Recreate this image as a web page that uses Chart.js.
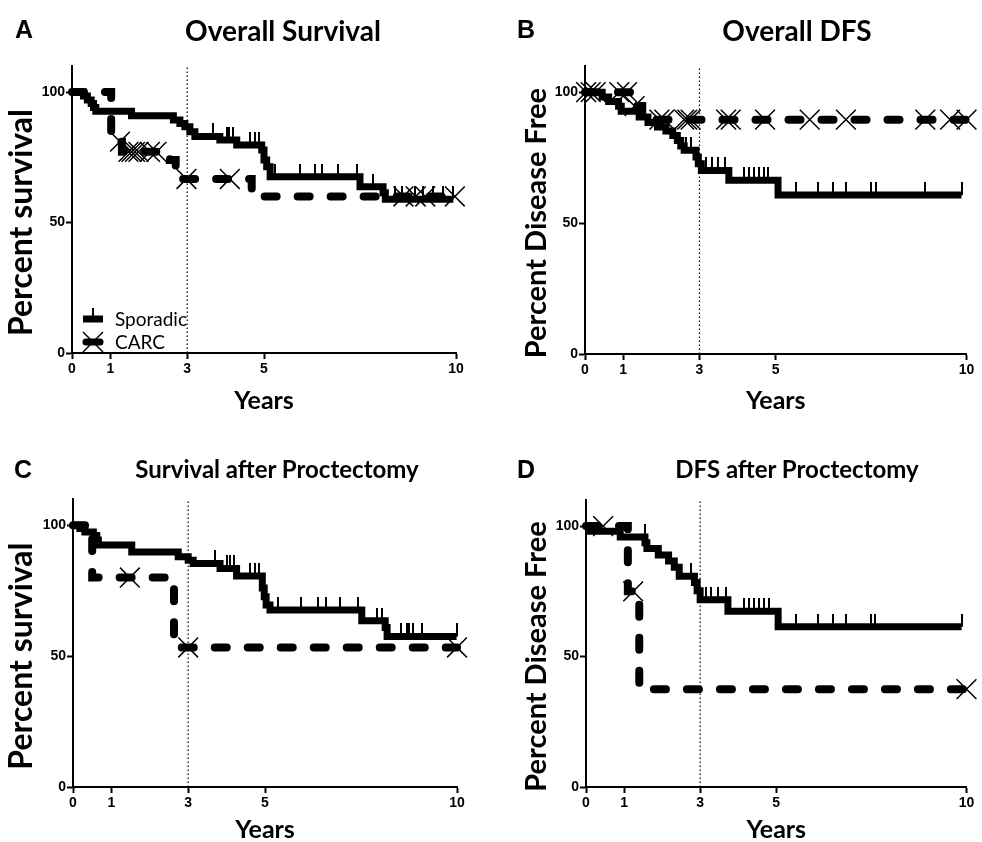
<!DOCTYPE html>
<html>
<head>
<meta charset="utf-8">
<script src="https://cdn.jsdelivr.net/npm/chart.js@4.4.0/dist/chart.umd.min.js"></script>
<style>
  body { margin: 0; background: #fff; }
  #wrap { position: relative; width: 982px; height: 842px; overflow: hidden; }
  canvas { position: absolute; }
  .lab { position: absolute; font: bold 25px "Liberation Sans", Arial, sans-serif; line-height: 1; transform: translate(-50%, -50%); }
  .ttl { position: absolute; font: bold 28px Lato, sans-serif; line-height: 1; white-space: nowrap; transform: translate(-50%, -50%); }
  .ttl.sm { font-size: 24px; }
</style>
</head>
<body>
<div id="wrap">
  <canvas id="cA" width="491" height="421" style="left:0;top:0"></canvas>
  <canvas id="cB" width="491" height="421" style="left:491px;top:0"></canvas>
  <canvas id="cC" width="491" height="421" style="left:0;top:421px"></canvas>
  <canvas id="cD" width="491" height="421" style="left:491px;top:421px"></canvas>
  <div class="lab" style="left:24px;top:29px">A</div>
  <div class="ttl" style="left:283px;top:30px">Overall Survival</div>
  <div class="lab" style="left:526px;top:29px">B</div>
  <div class="ttl" style="left:797px;top:30px">Overall DFS</div>
  <div class="lab" style="left:23px;top:469px">C</div>
  <div class="ttl sm" style="left:277px;top:469px">Survival after Proctectomy</div>
  <div class="lab" style="left:526px;top:469px">D</div>
  <div class="ttl sm" style="left:797px;top:469px">DFS after Proctectomy</div>
</div>
<script>
// axis ticks
const xTicks = [0, 1, 3, 5, 10];
const yTicks = [0, 50, 100];
const refYear = 3;

// A - overall survival
const osSpoTime = [0.30, 0.40, 0.50, 0.56, 0.62, 1.55, 2.64, 2.81, 2.94, 3.07, 3.20, 3.85, 4.29, 4.94, 5.00, 5.07, 5.16, 7.50, 8.10, 8.16];
const osSpoSurv = [98.5, 97.0, 95.6, 94.1, 92.7, 90.9, 89.3, 88.0, 86.7, 84.8, 83.0, 81.6, 79.7, 77.8, 74.0, 71.4, 67.6, 63.7, 61.4, 58.9];
const osSpoCens = [3.68, 4.03, 4.10, 4.20, 4.64, 4.77, 4.86, 5.29, 5.94, 6.33, 6.50, 6.94, 7.41, 7.85, 8.41, 8.59, 8.93, 9.15, 9.41, 9.67, 9.93];
const osCarcTime = [1.02, 1.30, 2.55, 2.70, 2.85, 4.68];
const osCarcSurv = [81.0, 77.1, 74.0, 70.5, 66.7, 60.0];
const osCarcCens = [1.25, 1.47, 1.55, 1.64, 1.73, 2.03, 2.20, 2.98, 4.11, 8.63, 8.95, 9.20, 9.97];

// B - overall DFS
const dfsSpoTime = [0.45, 0.62, 0.88, 0.95, 1.42, 1.65, 1.90, 2.12, 2.30, 2.42, 2.51, 2.60, 2.91, 2.97, 3.05, 3.77, 5.06];
const dfsSpoSurv = [98.2, 96.4, 94.6, 92.7, 90.5, 88.4, 86.7, 85.2, 83.5, 81.5, 79.4, 77.8, 75.2, 72.7, 70.1, 66.4, 60.7];
const dfsSpoCens = [2.66, 2.79, 3.18, 3.32, 3.48, 3.68, 4.16, 4.29, 4.42, 4.55, 4.68, 4.80, 5.54, 6.10, 6.49, 6.84, 7.49, 7.62, 8.92, 9.87];
const dfsCarcTime = [1.20, 1.50];
const dfsCarcSurv = [94.7, 89.5];
const dfsCarcCens = [0.03, 0.15, 0.28, 0.90, 1.10, 1.30, 1.95, 2.08, 2.60, 2.68, 2.77, 3.70, 3.82, 4.72, 5.89, 6.84, 8.92, 9.57, 10.0];

// C - survival after proctectomy
const psSpoTime = [0.18, 0.31, 0.53, 0.62, 0.66, 1.53, 2.74, 3.00, 3.13, 3.83, 4.26, 4.93, 4.98, 5.03, 5.13, 7.52, 8.13, 8.18];
const psSpoSurv = [98.7, 97.4, 96.1, 94.3, 92.4, 89.8, 87.9, 86.6, 85.4, 83.5, 80.6, 76.0, 72.7, 69.5, 67.6, 63.5, 60.9, 57.5];
const psSpoCens = [3.70, 4.00, 4.10, 4.20, 4.60, 4.75, 4.85, 5.33, 5.95, 6.38, 6.60, 6.95, 7.43, 7.91, 8.04, 8.54, 8.70, 8.75, 8.85, 9.10, 9.99];
const psCarcTime = [0.50, 2.63];
const psCarcSurv = [80.0, 53.3];
const psCarcCens = [1.48, 3.00, 10.0];

// D - DFS after proctectomy
const pdSpoTime = [0.12, 0.90, 1.55, 1.60, 1.90, 2.17, 2.32, 2.45, 2.85, 2.92, 3.00, 3.73, 5.05];
const pdSpoSurv = [98.0, 95.8, 93.6, 91.4, 88.9, 86.6, 84.2, 80.8, 78.4, 75.2, 71.8, 67.4, 61.4];
const pdSpoCens = [1.54, 2.75, 3.15, 3.28, 3.46, 3.67, 4.15, 4.28, 4.41, 4.54, 4.67, 4.80, 5.53, 6.09, 6.48, 6.82, 7.48, 7.60, 9.87];
const pdCarcTime = [1.10, 1.40];
const pdCarcSurv = [75.0, 37.5];
const pdCarcCens = [0.45, 1.24, 10.0];

// step curve points: start at 100, one point per event, run on to last follow-up
function kmLine(times, surv, cens) {
  const pts = [{ x: 0, y: 100 }];
  times.forEach((t, i) => pts.push({ x: t, y: surv[i] }));
  const end = Math.max(times[times.length - 1], ...cens);
  pts.push({ x: end, y: surv[surv.length - 1] });
  return pts;
}
// value of the step curve at time t
function kmAt(times, surv, t) {
  let s = 100;
  times.forEach((e, i) => { if (e <= t) s = surv[i]; });
  return s;
}
function kmCens(times, surv, cens) {
  return cens.map(t => ({ x: t, y: kmAt(times, surv, t) }));
}

// censor tick for sporadic: short vertical bar above the point
const tickImg = document.createElement('canvas');
tickImg.width = 2;
tickImg.height = 26;
const tctx = tickImg.getContext('2d');
tctx.fillStyle = '#000';
tctx.fillRect(0, 0, 2, 13);

const kmDecor = {
  id: 'kmDecor',
  beforeDatasetsDraw(chart, args, opts) {
    const { ctx, chartArea, scales } = chart;
    const x = scales.x.getPixelForValue(refYear);
    ctx.save();
    ctx.strokeStyle = '#000';
    ctx.lineWidth = 1.2;
    ctx.setLineDash([1.5, 2.5]);
    ctx.beginPath();
    ctx.moveTo(x, scales.y.getPixelForValue(0));
    ctx.lineTo(x, chartArea.top);
    ctx.stroke();
    ctx.restore();
  },
  afterDraw(chart, args, opts) {
    const { ctx, chartArea, scales } = chart;
    ctx.save();
    ctx.fillStyle = '#000';
    ctx.translate(opts.titleX, scales.y.getPixelForValue(50));
    ctx.rotate(-Math.PI / 2);
    ctx.font = 'bold ' + opts.titleSize + 'px Lato';
    ctx.textAlign = 'center';
    ctx.textBaseline = 'middle';
    ctx.fillText(opts.yTitle, 0, 0);
    ctx.restore();

    if (!opts.legend) return;
    const lx = chartArea.left + 11;
    const rows = [chartArea.bottom - 34, chartArea.bottom - 11];
    ctx.save();
    ctx.strokeStyle = '#000';
    ctx.fillStyle = '#000';
    // Sporadic
    ctx.lineWidth = 7;
    ctx.beginPath(); ctx.moveTo(lx, rows[0]); ctx.lineTo(lx + 20, rows[0]); ctx.stroke();
    ctx.fillRect(lx + 9, rows[0] - 11, 2, 11);
    // CARC
    ctx.lineCap = 'round';
    ctx.beginPath(); ctx.moveTo(lx + 3, rows[1]); ctx.lineTo(lx + 17, rows[1]); ctx.stroke();
    ctx.lineCap = 'butt';
    ctx.lineWidth = 1.5;
    ctx.beginPath();
    ctx.moveTo(lx, rows[1] - 10); ctx.lineTo(lx + 20, rows[1] + 10);
    ctx.moveTo(lx + 20, rows[1] - 10); ctx.lineTo(lx, rows[1] + 10);
    ctx.stroke();
    ctx.font = '19px Lato';
    ctx.textAlign = 'left';
    ctx.textBaseline = 'middle';
    ctx.fillText('Sporadic', lx + 32, rows[0] + 1);
    ctx.fillText('CARC', lx + 32, rows[1] + 1);
    ctx.restore();
  }
};

function makePanel(id, spo, carc, p) {
  const datasets = [
    {
      label: 'CARC censored', data: kmCens(...carc), showLine: false,
      pointStyle: 'crossRot', pointRadius: 14, pointBorderWidth: 1.5,
      pointBorderColor: '#000', pointBackgroundColor: 'rgba(0,0,0,0)', clip: false
    },
    {
      label: 'CARC', data: kmLine(...carc), stepped: true, borderColor: '#000',
      borderWidth: 8, borderDash: [12, 21], borderCapStyle: 'round', pointRadius: 0, fill: false, clip: false
    },
    {
      label: 'Sporadic censored', data: kmCens(...spo), showLine: false,
      pointStyle: tickImg, pointRadius: 1, clip: false
    },
    {
      label: 'Sporadic', data: kmLine(...spo), stepped: true, borderColor: '#000',
      borderWidth: 7, pointRadius: 0, fill: false, clip: false
    }
  ];
  const tickFont = { family: 'Liberation Sans', weight: 'bold', size: 14 };
  return new Chart(document.getElementById(id), {
    type: 'line',
    data: { datasets },
    plugins: [kmDecor],
    options: {
      responsive: false,
      animation: false,
      events: [],
      layout: { padding: { left: 0, right: p.right, top: p.top, bottom: 0 } },
      plugins: {
        legend: { display: false },
        tooltip: { enabled: false },
        kmDecor: { yTitle: p.yTitle, titleX: p.titleX, titleSize: p.titleSize, legend: p.legend }
      },
      scales: {
        x: {
          type: 'linear', min: 0, max: 10,
          afterBuildTicks: s => { s.ticks = xTicks.map(v => ({ value: v })); },
          afterFit: s => { s.height = p.xH; },
          border: { display: true, color: '#000', width: 2 },
          grid: { display: true, drawOnChartArea: false, drawTicks: true, tickLength: 6, tickWidth: 2, tickColor: '#000' },
          ticks: { font: tickFont, color: '#000', padding: 2, maxRotation: 0, autoSkip: false },
          title: {
            display: true, text: 'Years', color: '#000',
            font: { family: 'Lato', weight: 'bold', size: 25, lineHeight: 1 },
            padding: { top: 0, bottom: p.xTitlePad }
          }
        },
        y: {
          type: 'linear', min: 0, max: 110,
          afterBuildTicks: s => { s.ticks = yTicks.map(v => ({ value: v })); },
          afterFit: s => { s.width = p.yW; },
          border: { display: true, color: '#000', width: 2 },
          grid: { display: true, drawOnChartArea: false, drawTicks: true, tickLength: 6, tickWidth: 2, tickColor: '#000' },
          ticks: { font: tickFont, color: '#000', padding: 1 }
        }
      }
    }
  });
}

makePanel('cA', [osSpoTime, osSpoSurv, osSpoCens], [osCarcTime, osCarcSurv, osCarcCens],
  { yTitle: 'Percent survival', titleX: 22, titleSize: 32, yW: 72, xH: 68, top: 66, right: 35, xTitlePad: 8, legend: true });
makePanel('cB', [dfsSpoTime, dfsSpoSurv, dfsSpoCens], [dfsCarcTime, dfsCarcSurv, dfsCarcCens],
  { yTitle: 'Percent Disease Free', titleX: 46, titleSize: 29, yW: 94, xH: 67, top: 66, right: 12, xTitlePad: 8, legend: false });
makePanel('cC', [psSpoTime, psSpoSurv, psSpoCens], [psCarcTime, psCarcSurv, psCarcCens],
  { yTitle: 'Percent survival', titleX: 22, titleSize: 32, yW: 73, xH: 55, top: 78, right: 34, xTitlePad: 0, legend: false });
makePanel('cD', [pdSpoTime, pdSpoSurv, pdSpoCens], [pdCarcTime, pdCarcSurv, pdCarcCens],
  { yTitle: 'Percent Disease Free', titleX: 46, titleSize: 29, yW: 95, xH: 55, top: 79, right: 12, xTitlePad: 0, legend: false });
</script>
</body>
</html>
